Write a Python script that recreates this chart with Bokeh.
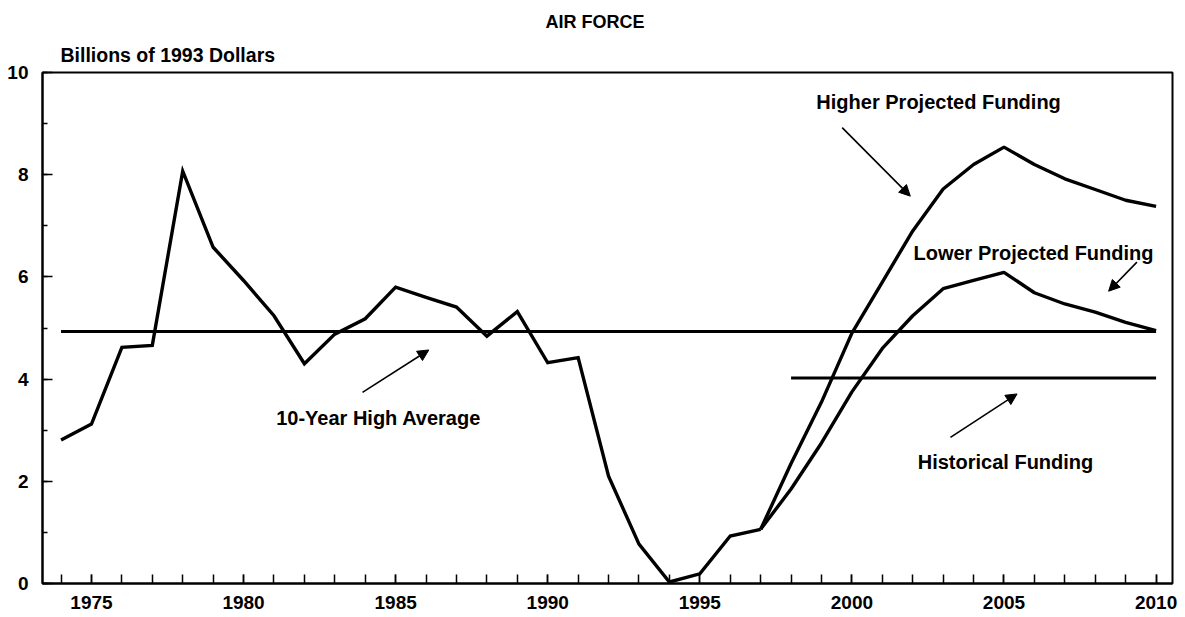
from bokeh.plotting import figure
from bokeh.models import (Label, Arrow, NormalHead, FixedTicker, SingleIntervalTicker, Title)
from bokeh.embed import file_html
from bokeh.resources import INLINE

# ---- data ----
years_actual = list(range(1974, 1998))
funding_actual = [2.81, 3.12, 4.62, 4.66, 8.07, 6.58, 5.93, 5.24, 4.30, 4.88, 5.18, 5.80,
                  5.60, 5.41, 4.84, 5.32, 4.32, 4.42, 2.10, 0.77, 0.03, 0.19, 0.93, 1.06]

years_proj = list(range(1997, 2011))
higher_proj = [1.06, 2.35, 3.55, 4.90, 5.90, 6.90, 7.72, 8.20, 8.54, 8.20, 7.92, 7.71, 7.50, 7.38]
lower_proj = [1.06, 1.85, 2.75, 3.75, 4.60, 5.24, 5.77, 5.93, 6.09, 5.69, 5.47, 5.31, 5.11, 4.95]

avg_years = [1974, 2010]
avg_level = 4.93
hist_years = [1998, 2010]
hist_level = 4.02

x_major = [1975, 1980, 1985, 1990, 1995, 2000, 2005, 2010]
x_minor = list(range(1974, 2011))

FONT = "Liberation Sans"

p = figure(width=1183, height=613, x_range=(1973.39, 2010.54), y_range=(0, 10),
           output_backend="svg", toolbar_location=None, title=None,
           min_border_left=42, min_border_right=11, min_border_top=72, min_border_bottom=30)

p.background_fill_color = "white"
p.border_fill_color = "white"
p.outline_line_color = "black"
p.outline_line_width = 2
p.xgrid.visible = False
p.ygrid.visible = False

# titles (first added sits nearest the frame)
p.add_layout(Title(text="Billions of 1993 Dollars", align="left", offset=18,
                   text_font=FONT, text_font_style="bold", text_font_size="19.5px",
                   text_color="black", standoff=13), "above")
p.add_layout(Title(text="AIR FORCE", align="left", offset=503,
                   text_font=FONT, text_font_style="bold", text_font_size="18px",
                   text_color="black", standoff=8), "above")

# x axis
xa = p.xaxis[0]
xa.ticker = FixedTicker(ticks=x_major, minor_ticks=x_minor)
xa.axis_line_width = 2
xa.axis_line_color = "black"
xa.major_tick_in = 9
xa.major_tick_out = 0
xa.minor_tick_in = 9
xa.minor_tick_out = 0
xa.major_tick_line_width = 1.5
xa.minor_tick_line_width = 1.5
xa.major_label_standoff = 12
xa.major_label_text_font = FONT
xa.major_label_text_font_style = "bold"
xa.major_label_text_font_size = "19px"
xa.major_label_text_color = "black"

# y axis
ya = p.yaxis[0]
ya.ticker = SingleIntervalTicker(interval=2, num_minor_ticks=2)
ya.axis_line_width = 2
ya.axis_line_color = "black"
ya.major_tick_in = 10
ya.major_tick_out = 0
ya.minor_tick_in = 5
ya.minor_tick_out = 0
ya.major_tick_line_width = 1.5
ya.minor_tick_line_width = 1.5
ya.major_label_standoff = 14
ya.major_label_text_font = FONT
ya.major_label_text_font_style = "bold"
ya.major_label_text_font_size = "19px"
ya.major_label_text_color = "black"

# lines
p.line(avg_years, [avg_level] * len(avg_years), line_color="black", line_width=3)
p.line(hist_years, [hist_level] * len(hist_years), line_color="black", line_width=3)
p.line(years_actual, funding_actual, line_color="black", line_width=3.4, line_join="miter")
p.line(years_proj, higher_proj, line_color="black", line_width=3.4)
p.line(years_proj, lower_proj, line_color="black", line_width=3.4)

def lab(x, y, text, size="20px", align="center"):
    p.add_layout(Label(x=x, y=y, text=text, text_font=FONT, text_font_style="bold",
                       text_font_size=size, text_align=align, text_baseline="middle",
                       text_color="black"))

lab(2002.85, 9.42, "Higher Projected Funding")
lab(2005.97, 6.46, "Lower Projected Funding")
lab(2005.05, 2.37, "Historical Funding")
lab(1984.44, 3.23, "10-Year High Average")

def arr(x0, y0, x1, y1):
    p.add_layout(Arrow(x_start=x0, y_start=y0, x_end=x1, y_end=y1, line_width=1.6,
                       line_color="black",
                       end=NormalHead(size=11, fill_color="black", line_color="black")))

arr(1999.68, 8.92, 2001.92, 7.58)
arr(2009.37, 6.29, 2008.44, 5.72)
arr(2003.24, 2.86, 2005.43, 3.71)
arr(1983.91, 3.74, 1986.09, 4.57)

open("out.html", "w").write(file_html(p, INLINE))
